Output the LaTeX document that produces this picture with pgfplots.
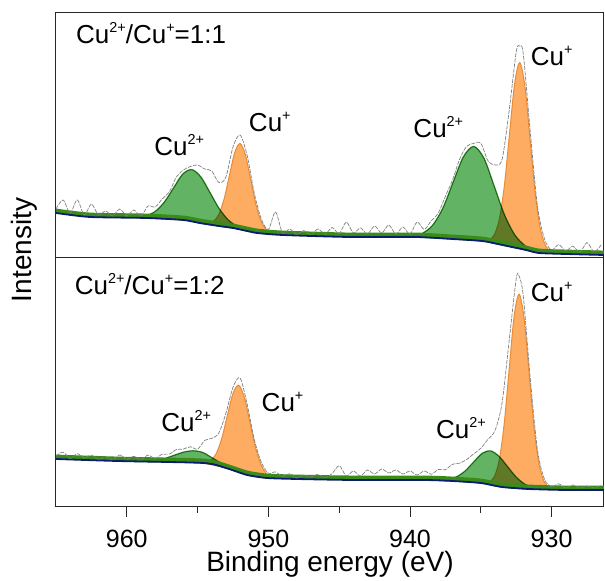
\documentclass[border=0pt]{standalone}
\usepackage{fontspec}
\setmainfont{Liberation Sans}
\usepackage{pgfplots}
\pgfplotsset{compat=1.18}
\definecolor{gfill}{RGB}{98,180,100}
\definecolor{gline}{RGB}{50,135,40}
\definecolor{ofill}{RGB}{253,172,98}
\definecolor{oline}{RGB}{232,140,55}
\definecolor{navy}{RGB}{12,28,110}
\definecolor{strip}{RGB}{58,140,25}
\newcommand{\sups}[1]{\raisebox{0.42em}{\fontsize{7.2}{8}\selectfont #1}}
\newcommand{\af}{\fontsize{13}{15}\selectfont}
\pgfplotsset{
  panel/.style={scale only axis, width=274pt, x dir=reverse, xmin=926.3, xmax=965,
    ytick=\empty, ymin=0, axis line style={line width=0.5pt, black!85},
    /pgf/number format/assume math mode=true},
  ofl/.style={fill=ofill, draw=oline, line width=0.5pt, smooth, tension=0.5},
  gfl/.style={fill=gfill, draw=gline, line width=0.6pt, smooth, tension=0.5, blend mode=multiply},
  rawl/.style={black!50, line width=0.35pt, dash pattern=on 2pt off 0.6pt, smooth, tension=0.5},
  stripl/.style={strip, line width=2pt, yshift=1.2pt, smooth, tension=0.4},
  basel/.style={navy, line width=0.9pt, smooth, tension=0.4},
}
\begin{document}
\begin{tikzpicture}
\useasboundingbox (0,0) rectangle (302.5pt,290.5pt);
% ---------------- bottom panel ----------------
\begin{axis}[panel, at={(28pt,37pt)}, anchor=south west, height=124.5pt, ymax=249,
  xtick={930,940,950,960}, minor xtick={935,945,955}, tick align=outside, xtick pos=left,
  major tick length=5pt, minor tick length=3pt, tick style={black!85, line width=0.5pt},
  xticklabel style={font=\fontsize{12.5}{14}\selectfont, yshift=-3pt},
  xlabel={Binding energy (eV)}, xlabel style={font=\fontsize{14}{16}\selectfont, yshift=5pt}]
\addplot[ofl] coordinates {(949.7,29.8)(950.1,32.8)(950.5,41.7)(950.9,58.9)(951.3,84.4)(951.7,109.7)(952.1,121.8)(952.5,113.5)(952.9,91.3)(953.3,68.1)(953.7,53.0)(954.1,46.3)(954.5,44.7)
 (954.5,43.7)(953,39)(951.5,32)(950.1,29)(949.7,28.8)};
\addplot[ofl] coordinates {(930.2,19.7)(930.55,26.1)(930.9,43.9)(931.25,80.9)(931.6,135.7)(931.95,189.6)(932.3,212.8)(932.65,190.4)(933.0,137.2)(933.35,82.9)(933.7,46.7)(934.05,30.0)(934.4,24.6)
 (934.4,22.4)(933.5,20)(931.6,18)(930.2,17.5)};
\addplot[gfl] coordinates {(951.4,31.9)(952.05,35.1)(952.7,39.2)(953.35,44.0)(954.0,49.4)(954.65,54.6)(955.3,56.2)(955.95,55.0)(956.6,52.0)(957.25,48.8)(957.9,46.7)(958.55,45.8)(959.2,45.6)
 (959.2,45.5)(954.6,44)(953,39)(951.5,32)(951.4,31.8)};
\addplot[gfl] coordinates {(930.7,18.1)(931.3,19.4)(931.9,22.9)(932.5,29.9)(933.1,40.2)(933.7,50.5)(934.3,56.1)(934.9,53.7)(935.5,45.1)(936.1,36.1)(936.7,30.3)(937.3,27.7)(937.9,26.9)
 (937.9,26.5)(937,26)(935,24)(933.5,20)(931.6,18)(930.7,17.7)};
\addplot[stripl] coordinates {(965,48)(960.7,46)(954.6,44)(953,39)(951.5,32)(950.1,29)(948,28)(944,27)(939,27)(937,26)(935,24)(933.5,20)(931.6,18)(929,17)(926.3,17)};
\addplot[basel] coordinates {(965,48)(960.7,46)(954.6,44)(953,39)(951.5,32)(950.1,29)(948,28)(944,27)(939,27)(937,26)(935,24)(933.5,20)(931.6,18)(929,17)(926.3,17)};
\addplot[rawl] table {
965 51
964.5 54.8
964 48.5
963.5 53.3
963 49.1
962.5 51.8
962 47.6
961.5 50.4
961 47.1
960.5 52
960 47.8
959.5 50.6
959 47.5
958.5 51.9
958 48.5
957.5 52.8
957 52.9
956.5 57.4
956 57.9
955.5 60.2
955 57.8
954.5 66.6
954 68.6
953.5 74
953 93.7
952.5 119.7
952 129
951.5 102.7
951 67.7
950.5 44.7
950 33.8
949.5 35.1
949 30.5
948.5 33.2
948 29
947.5 31.9
947 29.8
946.5 32.6
946 29.5
945.5 33.4
945 41.3
944.5 31.1
944 36
943.5 31
943 37
942.5 33
942 38
941.5 34
941 37
940.5 33
940 36
939.5 32
939 36
938.5 32.8
938 37.5
937.5 37.3
937 42.7
936.5 43.8
936 47.5
935.5 53.1
935 58.7
934.5 67.6
934 76.4
933.5 103.9
933 166
932.5 228
932.3 231
932 211
931.5 127.2
931 57.2
930.5 27.7
930 20.3
929.5 23.2
929 19
928.5 22
928 19
927.5 21
927 19
926.5 22
};
\node[anchor=west, inner sep=0pt, font=\af] at (axis cs:963.7,223) {Cu\sups{2+}/Cu\sups{+}=1:2};
\node[font=\af] at (axis cs:955.8,86) {Cu\sups{2+}};
\node[font=\af] at (axis cs:949.0,105) {Cu\sups{+}};
\node[font=\af] at (axis cs:936.4,79) {Cu\sups{2+}};
\node[font=\af] at (axis cs:930.0,215) {Cu\sups{+}};
\end{axis}
% ---------------- top panel ----------------
\begin{axis}[panel, at={(28pt,161.5pt)}, anchor=south west, height=122.5pt, ymax=245, xtick=\empty]
\addplot[ofl] coordinates {(949.75,24.8)(950.125,28.1)(950.5,36.3)(950.875,53.1)(951.25,78.5)(951.625,103.3)(952.0,114.5)(952.375,105.5)(952.75,82.7)(953.125,59.2)(953.5,43.6)(953.875,36.6)(954.25,34.7)
 (954.25,33.7)(953.5,32)(952.5,30)(951.5,27)(950.8,25)(949.75,23.8)};
\addplot[ofl] coordinates {(930.09,6.7)(930.45,13.0)(930.81,30.2)(931.17,66.3)(931.53,119.9)(931.89,172.4)(932.25,195.4)(932.61,174.5)(932.97,124.3)(933.33,73.0)(933.69,38.9)(934.05,22.9)(934.41,17.8)
 (934.41,15.7)(933.8,14)(932.8,11)(931.8,8)(930.9,5)(930.09,4.6)};
\addplot[gfl] coordinates {(951.5,27.6)(952.15,31.3)(952.8,37.6)(953.45,48.8)(954.1,64.8)(954.75,80.7)(955.4,88.4)(956.05,83.9)(956.7,70.0)(957.35,55.9)(958.0,46.5)(958.65,42.3)(959.3,40.8)
 (959.3,40.2)(958.6,40)(956,38)(954.85,35)(953.5,32)(952.5,30)(951.5,27)};
\addplot[gfl] coordinates {(931.15,6.8)(931.875,12.3)(932.6,23.1)(933.325,43.1)(934.05,71.7)(934.775,99.7)(935.5,111.6)(936.225,101.3)(936.95,76.0)(937.675,50.0)(938.4,32.8)(939.125,24.7)(939.85,22.0)
 (939.85,21)(939.6,21)(937,19)(934.9,17)(933.8,14)(932.8,11)(931.8,8)(931.15,5.8)};
\addplot[stripl] coordinates {(965,45)(962.6,41)(958.6,40)(956,38)(954.85,35)(953.5,32)(952.5,30)(951.5,27)(950.8,25)(949,23)(944.3,21)(939.6,21)(937,19)(934.9,17)(933.8,14)(932.8,11)(931.8,8)(930.9,5)(929,4)(926.3,3)};
\addplot[basel] coordinates {(965,45)(962.6,41)(958.6,40)(956,38)(954.85,35)(953.5,32)(952.5,30)(951.5,27)(950.8,25)(949,23)(944.3,21)(939.6,21)(937,19)(934.9,17)(933.8,14)(932.8,11)(931.8,8)(930.9,5)(929,4)(926.3,3)};
\addplot[rawl] table {
965 49
964.5 58
964 45
963.5 58
963 43
962.5 54
962 43
961.5 47
961 42
960.5 49
960 42
959.5 48
959 42
958.5 52
958 51
957.5 59
957 66
956.5 81
956 88
955.5 91.5
955 93
954.5 89
954 87
953.5 75.5
953 81
952.5 111
952 123
951.5 102.5
951 65
950.5 39
950 28.6
949.5 46
949 25
948.5 29
948 23.6
947.5 27.4
947 23.2
946.5 29
946 23.7
945.5 30.5
945 24.3
944.5 36
944 25
943.5 30
943 24
942.5 32
942 25
941.5 33
941 24
940.5 31
940 23.8
939.5 36
939 28.6
938.5 37.2
938 45
937.5 61.7
937 78
936.5 98.6
936 111.6
935.5 114.6
935 114.8
934.5 97.4
934 93
933.5 98.6
933 147
932.5 206
932.25 212
932 204
931.5 125
931 52
930.5 19
930 8
929.5 13.4
929 7
928.5 11.8
928 5.6
927.5 15.4
927 6.3
926.5 13.1
};
\node[anchor=west, inner sep=0pt, font=\af] at (axis cs:963.6,225) {Cu\sups{2+}/Cu\sups{+}=1:1};
\node[font=\af] at (axis cs:956.3,113) {Cu\sups{2+}};
\node[font=\af] at (axis cs:949.9,136) {Cu\sups{+}};
\node[font=\af] at (axis cs:938.0,131) {Cu\sups{2+}};
\node[font=\af] at (axis cs:930.0,202) {Cu\sups{+}};
\end{axis}
\node[rotate=90, font=\fontsize{14}{16}\selectfont] at (12pt,165.5pt) {Intensity};
\end{tikzpicture}
\end{document}
